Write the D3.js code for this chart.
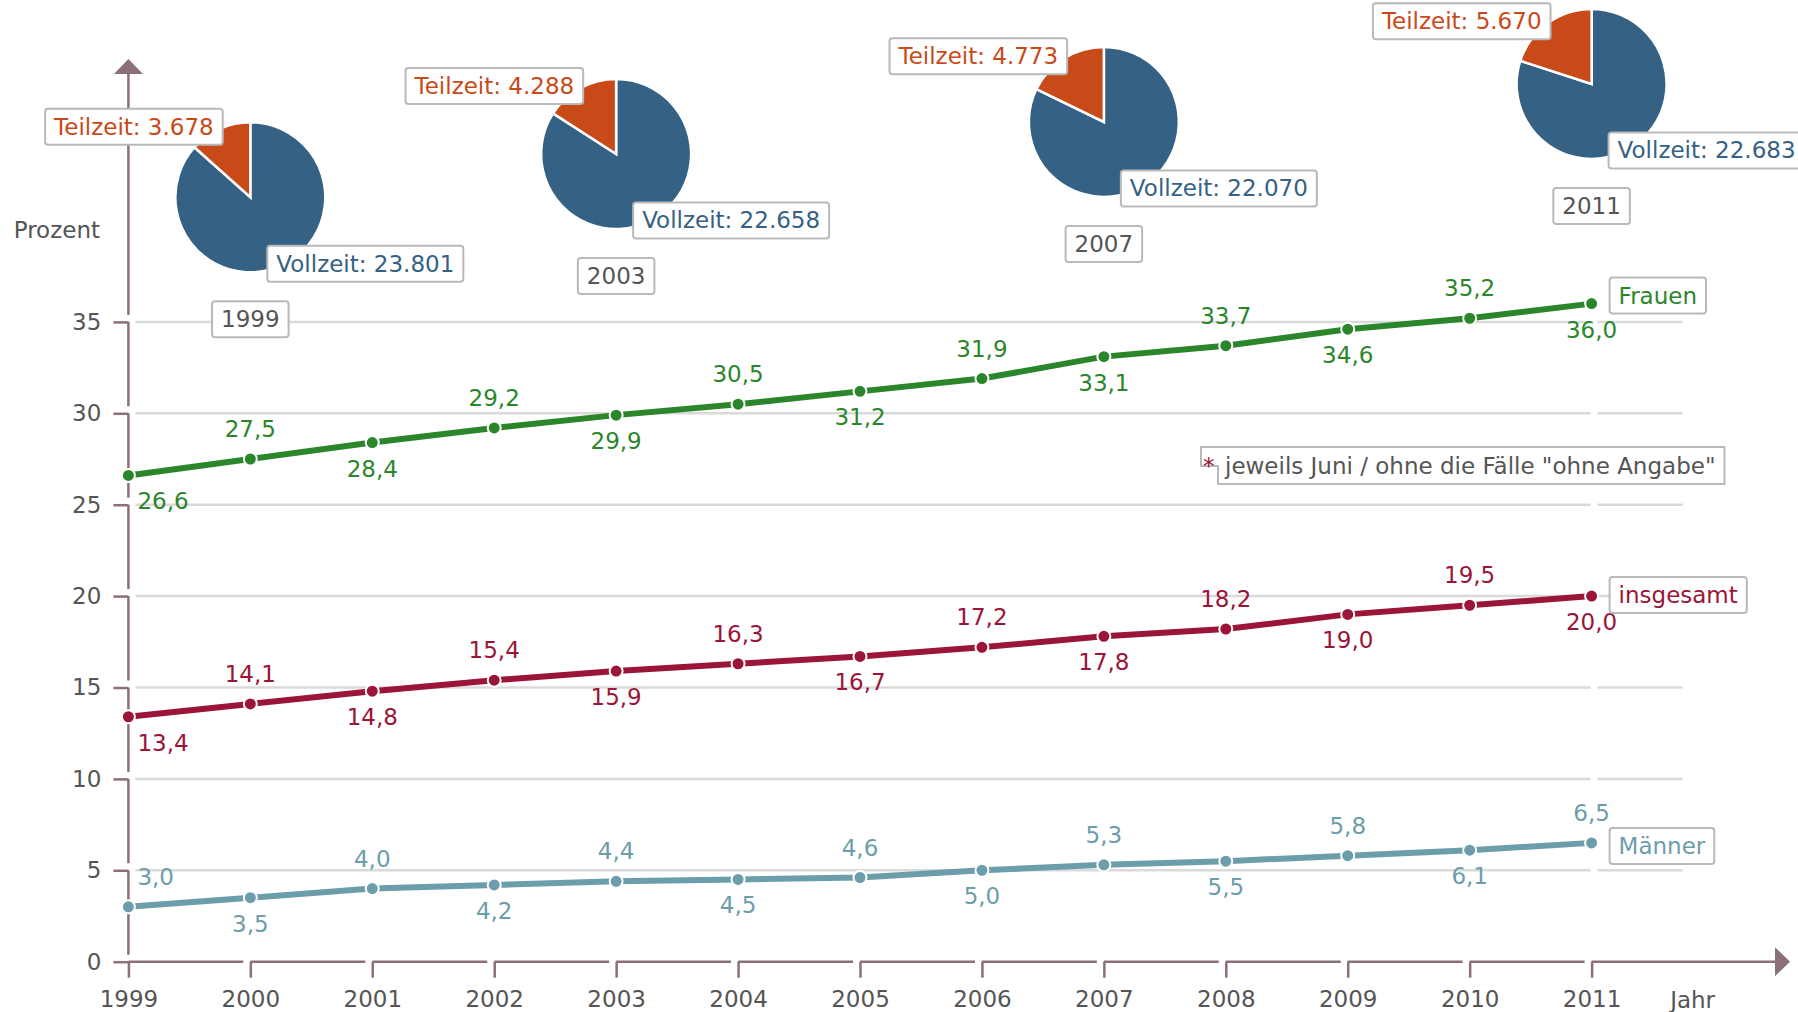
<!DOCTYPE html>
<html>
<head>
<meta charset="utf-8">
<script src="https://cdn.jsdelivr.net/npm/d3@7"></script>
<style>
  body { margin: 0; background: #fff; }
  svg text { font-family: "DejaVu Sans", Verdana, sans-serif; font-size: 23px; }
</style>
</head>
<body>
<svg id="chart" width="1798" height="1012"></svg>
<script>
"use strict";

//// data
const years = [1999, 2000, 2001, 2002, 2003, 2004, 2005, 2006, 2007, 2008, 2009, 2010, 2011];
const frauen = [26.6, 27.5, 28.4, 29.2, 29.9, 30.5, 31.2, 31.9, 33.1, 33.7, 34.6, 35.2, 36.0];
const insgesamt = [13.4, 14.1, 14.8, 15.4, 15.9, 16.3, 16.7, 17.2, 17.8, 18.2, 19.0, 19.5, 20.0];
const maenner = [3.0, 3.5, 4.0, 4.2, 4.4, 4.5, 4.6, 5.0, 5.3, 5.5, 5.8, 6.1, 6.5];
const yTicks = [0, 5, 10, 15, 20, 25, 30, 35];

const pieYears = [1999, 2003, 2007, 2011];
const teilzeit = [3678, 4288, 4773, 5670];
const vollzeit = [23801, 22658, 22070, 22683];

const yLabel = "Prozent";
const xLabel = "Jahr";
const footnote = "jeweils Juni / ohne die F\u00e4lle \"ohne Angabe\"";

//// styles
const axisColor = "#8c7077";
const gridColor = "#dadada";
const textGray = "#555555";
const boxStroke = "#b9b9b9";
const pieBlue = "#356184";
const pieOrange = "#c94a19";
const pad = 9, boxH = 36;

const series = [
    { name: "Frauen", values: frauen, color: "#2b862b", first: "below", boxDy: -8 },
    { name: "insgesamt", values: insgesamt, color: "#9a1537", first: "below", boxDy: -1 },
    { name: "M\u00e4nner", values: maenner, color: "#6c9dab", first: "above", boxDy: 3 }
];

const de = d3.formatLocale({ decimal: ",", thousands: ".", grouping: [3], currency: ["", "€"] });
const fmt1 = de.format(".1f");
const fmtInt = de.format(",");

const svg = d3.select("#chart");

//// scales
const x = d3.scaleLinear().domain([1999, 2011]).range([128.4, 1591.6]);
const y = d3.scaleLinear().domain([0, 35]).range([961.7, 321.9]);
// pies float above the chart, their height follows the part-time share
const pieY = d3.scaleLinear().domain([0, 35]).range([426.7, -173.2]);
const step = x(2000) - x(1999);
const gap = 7;

//// grid lines (split at the last year)
const grid = svg.append("g").attr("class", "grid");
yTicks.filter(v => v > 0).forEach(function(v) {
    [[x(1999) + gap, x(2011) - 1], [x(2011) + 6, x(2011) + 91]].forEach(function(seg) {
        grid.append("line")
            .attr("x1", seg[0]).attr("x2", seg[1])
            .attr("y1", y(v)).attr("y2", y(v))
            .attr("stroke", gridColor).attr("stroke-width", 2.5);
    });
});

//// axes
const axes = svg.append("g").attr("class", "axes");

const yAxis = axes.append("g")
    .attr("transform", "translate(" + x(1999) + ",0)")
    .call(d3.axisLeft(y).tickValues(yTicks).tickSize(15).tickPadding(12));
yAxis.select(".domain").remove();
yAxis.selectAll(".tick line").attr("stroke", axisColor).attr("stroke-width", 2.5);
yAxis.selectAll(".tick text").attr("fill", textGray).style("font-size", "23px")
    .style("font-family", "DejaVu Sans, Verdana, sans-serif");

const xAxis = axes.append("g")
    .attr("transform", "translate(0," + y(0) + ")")
    .call(d3.axisBottom(x).tickValues(years).tickFormat(d3.format("d")).tickSize(16).tickPadding(13));
xAxis.select(".domain").remove();
xAxis.selectAll(".tick line").attr("stroke", axisColor).attr("stroke-width", 2.5);
xAxis.selectAll(".tick text").attr("fill", textGray).style("font-size", "23px")
    .style("font-family", "DejaVu Sans, Verdana, sans-serif");

// segmented axis lines with small gaps before each tick
const arrowLen = 15, arrowHalf = 14.5;
const yTop = 59;
const xEnd = 1790;
const ySegs = [[yTop + arrowLen, y(35) - gap]];
yTicks.forEach(function(v, i) {
    if (i > 0) ySegs.push([y(v), y(yTicks[i - 1]) - gap]);
});
ySegs.forEach(function(s) {
    axes.append("line")
        .attr("x1", x(1999)).attr("x2", x(1999))
        .attr("y1", s[0]).attr("y2", s[1])
        .attr("stroke", axisColor).attr("stroke-width", 2.5);
});
years.forEach(function(yr, i) {
    const x2 = i < years.length - 1 ? x(years[i + 1]) - gap : xEnd - arrowLen;
    axes.append("line")
        .attr("x1", x(yr)).attr("x2", x2)
        .attr("y1", y(0)).attr("y2", y(0))
        .attr("stroke", axisColor).attr("stroke-width", 2.5);
});
axes.append("path")
    .attr("d", "M" + x(1999) + "," + yTop + "L" + (x(1999) - arrowHalf) + "," + (yTop + arrowLen) +
               "L" + (x(1999) + arrowHalf) + "," + (yTop + arrowLen) + "Z")
    .attr("fill", axisColor);
axes.append("path")
    .attr("d", "M" + xEnd + "," + y(0) + "L" + (xEnd - arrowLen) + "," + (y(0) - arrowHalf) +
               "L" + (xEnd - arrowLen) + "," + (y(0) + arrowHalf) + "Z")
    .attr("fill", axisColor);

axes.append("text")
    .attr("x", 100).attr("y", y(35) - 84)
    .attr("text-anchor", "end").attr("fill", textGray)
    .text(yLabel);
axes.append("text")
    .attr("x", x(2011) + 101).attr("y", y(0) + 45.8)
    .attr("text-anchor", "middle").attr("fill", textGray)
    .text(xLabel);

//// helper: text in a rounded box
function labelBox(parent, text, color, ax, ay, align) {
    const g = parent.append("g");
    const t = g.append("text").attr("fill", color).text(text);
    const w = t.node().getComputedTextLength();
    const bw = w + 2 * pad;
    const x0 = align === "right" ? ax - bw : (align === "middle" ? ax - bw / 2 : ax);
    g.insert("rect", "text")
        .attr("x", x0).attr("y", ay - boxH / 2)
        .attr("width", bw).attr("height", boxH)
        .attr("rx", 3)
        .attr("fill", "#fff").attr("stroke", boxStroke).attr("stroke-width", 2);
    t.attr("x", x0 + pad).attr("y", ay + 8);
    return g;
}

//// footnote
const note = svg.append("g").attr("class", "footnote");
const noteText = note.append("text").attr("x", 1225).attr("y", 474).attr("fill", textGray).text(footnote);
const noteW = noteText.node().getComputedTextLength();
const nR = 1225 + noteW + 9;
note.insert("path", "text")
    .attr("d", "M1201,447H" + nR + "V484H1218V466H1201Z")
    .attr("fill", "#fff").attr("stroke", boxStroke).attr("stroke-width", 2)
    .attr("stroke-linejoin", "round");
note.append("text").attr("x", 1203).attr("y", 474).attr("fill", "#9a1537").text("*");

//// lines
const line = d3.line()
    .x(function(d, i) { return x(years[i]); })
    .y(function(d) { return y(d); });

const plot = svg.append("g").attr("class", "lines");
series.forEach(function(s) {
    const g = plot.append("g");
    g.append("path")
        .attr("d", line(s.values))
        .attr("fill", "none")
        .attr("stroke", s.color)
        .attr("stroke-width", 6)
        .attr("stroke-linejoin", "round");
    g.selectAll("circle")
        .data(s.values)
        .enter().append("circle")
            .attr("cx", function(d, i) { return x(years[i]); })
            .attr("cy", function(d) { return y(d); })
            .attr("r", 6.5)
            .attr("fill", s.color)
            .attr("stroke", "#fff")
            .attr("stroke-width", 2);
    g.selectAll("text.val")
        .data(s.values)
        .enter().append("text")
            .attr("class", "val")
            .attr("fill", s.color)
            .attr("text-anchor", function(d, i) { return i === 0 ? "start" : "middle"; })
            .attr("x", function(d, i) { return x(years[i]) + (i === 0 ? 9 : 0); })
            .attr("y", function(d, i) {
                const below = (i % 2 === 0) === (s.first === "below");
                return y(d) + (below ? 34 : -22);
            })
            .text(function(d) { return fmt1(d); });

    const last = s.values[s.values.length - 1];
    labelBox(g, s.name, s.color, x(2011) + 18, y(last) + s.boxDy, "left");
});

//// pies (the first one is moved off the y axis by one column)
const r = 75;
const pie = d3.pie().sort(null).value(function(d) { return d.v; });
const arc = d3.arc().innerRadius(0).outerRadius(r);
const pies = svg.append("g").attr("class", "pies");

pieYears.forEach(function(yr, k) {
    const total = teilzeit[k] + vollzeit[k];
    const share = teilzeit[k] / total * 100;
    const cx = Math.max(x(yr), x(1999) + step), cy = pieY(share);
    const arcs = pie([
        { key: "Vollzeit", v: vollzeit[k], color: pieBlue },
        { key: "Teilzeit", v: teilzeit[k], color: pieOrange }
    ]);
    const g = pies.append("g").attr("transform", "translate(" + cx + "," + cy + ")");
    g.selectAll("path")
        .data(arcs)
        .enter().append("path")
            .attr("d", arc)
            .attr("fill", function(d) { return d.data.color; })
            .attr("stroke", "#fff")
            .attr("stroke-width", 2.5);

    const t = arcs[1];
    const mid = (t.startAngle + t.endAngle) / 2;
    labelBox(pies, "Teilzeit: " + fmtInt(teilzeit[k]), pieOrange,
        cx + r * Math.sin(mid) + 3, cy - r * Math.cos(mid) - 2, "right");
    labelBox(pies, "Vollzeit: " + fmtInt(vollzeit[k]), pieBlue, cx + 17, cy + 66.5, "left");
    labelBox(pies, String(yr), textGray, cx, cy + 122, "middle");
});
</script>
</body>
</html>
